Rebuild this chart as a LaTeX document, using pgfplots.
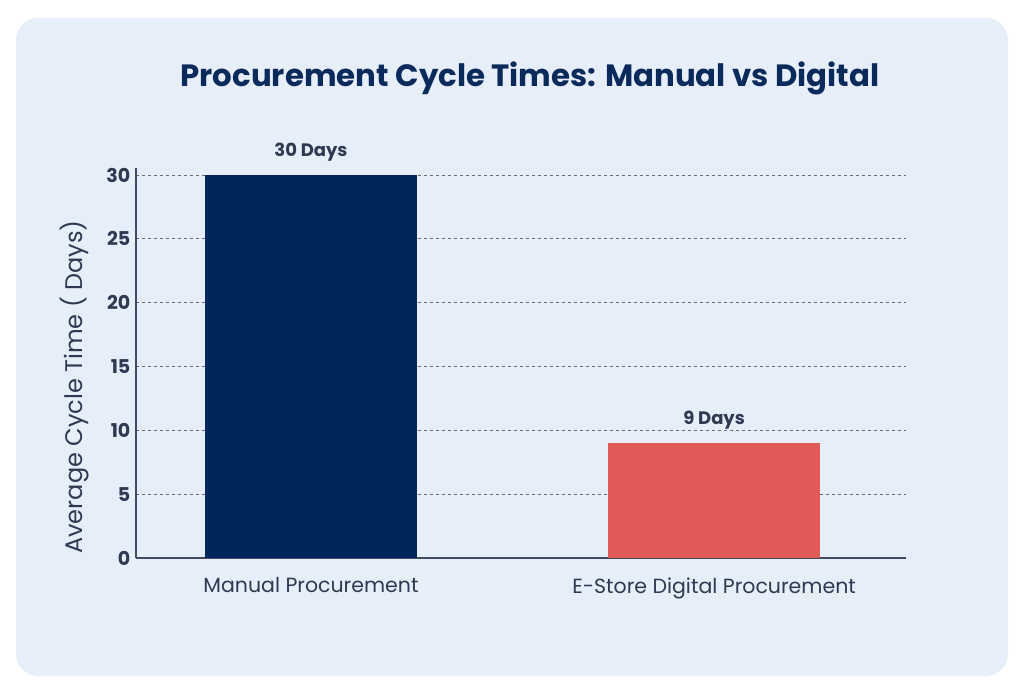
\documentclass[border=0pt]{standalone}
\usepackage{fontspec}
\setmainfont{Poppins}
\usepackage{pgfplots}
\pgfplotsset{compat=1.18}

\definecolor{cardbg}{HTML}{E6EEF9}
\definecolor{titlecol}{HTML}{0B2A5C}
\definecolor{navybar}{HTML}{00275A}
\definecolor{redbar}{HTML}{E05A58}
\definecolor{textcol}{HTML}{2E3A52}
\definecolor{axiscol}{HTML}{3F4B63}

\begin{document}
\begin{tikzpicture}[x=1pt,y=1pt]
\useasboundingbox (0,0) rectangle (1024,694);
\fill[white] (0,0) rectangle (1024,694);
\fill[cardbg, rounded corners=22pt] (16,18) rectangle (1008,676);

\node[font=\bfseries\fontsize{30.8}{36}\selectfont, text=titlecol] at (530,616)
  {Procurement Cycle Times: Manual vs Digital};

\node[rotate=90, font=\fontsize{24}{28}\selectfont, text=textcol] at (75,307)
  {Average Cycle Time ( Days)};

\begin{axis}[
  at={(136pt,136pt)}, anchor=south west,
  scale only axis, width=770pt, height=390pt,
  xmin=-0.434, xmax=1.476,
  ymin=0, ymax=30.55,
  axis lines=left,
  axis line style={-, draw=axiscol, line width=1.6pt},
  xtick={0,1},
  xticklabels={Manual Procurement, E-Store Digital Procurement},
  ytick={0,5,10,15,20,25,30},
  tick style={draw=none},
  /pgf/number format/assume math mode=true,
  xticklabel style={font=\fontsize{20.5}{24}\selectfont, text=textcol, yshift=-14pt},
  yticklabel style={font=\bfseries\fontsize{19}{22}\selectfont, text=textcol},
  ymajorgrids=true,
  grid style={dashed, draw=gray!85!black, line width=0.8pt},
  point meta=explicit symbolic,
  nodes near coords,
  nodes near coords style={font=\bfseries\fontsize{18}{21}\selectfont, text=textcol, yshift=10pt},
]
\addplot[ybar, bar width=212pt, bar shift=0pt, fill=navybar, draw=none]
  coordinates {(0,30) [30 Days]};
\addplot[ybar, bar width=212pt, bar shift=0pt, fill=redbar, draw=none]
  coordinates {(1,9) [9 Days]};
\end{axis}
\end{tikzpicture}
\end{document}
